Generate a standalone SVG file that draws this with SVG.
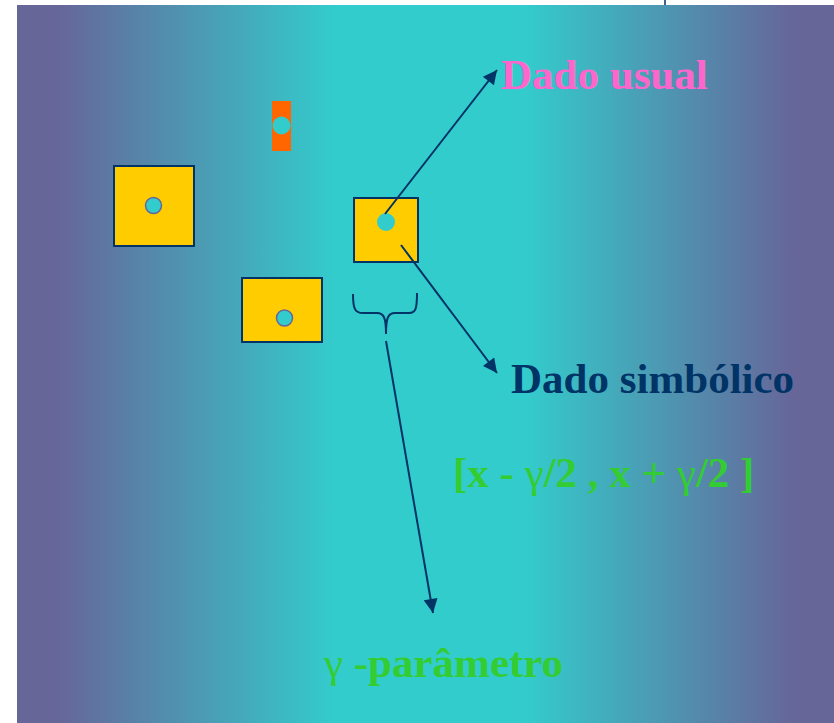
<svg xmlns="http://www.w3.org/2000/svg" width="834" height="723" viewBox="0 0 834 723">
  <style>
    .box { fill: #FFCC00; stroke: #003366; stroke-width: 2; }
    .dot { fill: #33CCCC; stroke: #666699; stroke-width: 1.5; }
    .conn { fill: none; stroke: #003366; stroke-width: 2; }
    .lbl { font-family: "Liberation Serif", "Times New Roman", serif; font-weight: bold; font-size: 43px; }
  </style>
  <defs>
    <linearGradient id="bg" x1="0" y1="0" x2="1" y2="0">
      <stop offset="0" stop-color="#666699"/>
      <stop offset="0.05" stop-color="#666699"/>
      <stop offset="0.39" stop-color="#33CCCC"/>
      <stop offset="0.62" stop-color="#33CCCC"/>
      <stop offset="0.95" stop-color="#666699"/>
      <stop offset="1" stop-color="#666699"/>
    </linearGradient>
    <marker id="arrow" viewBox="0 0 10 10" refX="10" refY="5" markerUnits="userSpaceOnUse" markerWidth="17" markerHeight="14" orient="auto">
      <path d="M0,0 L10,5 L0,10 z" fill="#003366"/>
    </marker>
  </defs>

  <rect x="0" y="0" width="834" height="723" fill="#FFFFFF"/>
  <rect x="17" y="5" width="817" height="718" fill="url(#bg)"/>
  <line x1="665" y1="0" x2="665" y2="5" stroke="#003366" stroke-width="1.5"/>

  <g id="interval-bar">
    <rect x="272" y="101" width="19" height="50" fill="#FF6600"/>
    <circle cx="281.5" cy="125.5" r="9" fill="#33CCCC"/>
  </g>

  <g id="square-left">
    <rect class="box" x="114" y="166" width="80" height="80"/>
    <circle class="dot" cx="153.5" cy="205.5" r="8"/>
  </g>

  <g id="square-bottom">
    <rect class="box" x="242" y="278" width="80" height="64"/>
    <circle class="dot" cx="284.5" cy="318" r="8"/>
  </g>

  <g id="square-right">
    <rect class="box" x="354" y="198" width="64" height="64"/>
    <circle cx="386" cy="222" r="9" fill="#33CCCC"/>
  </g>

  <g id="connectors">
    <line class="conn" x1="385" y1="214" x2="497" y2="70" marker-end="url(#arrow)"/>
    <line class="conn" x1="401" y1="245" x2="497" y2="373" marker-end="url(#arrow)"/>
    <line class="conn" x1="386" y1="341" x2="433" y2="613" marker-end="url(#arrow)"/>
    <path class="conn" d="M353,294 C353,309 355,313 363,313 L377,313 C384,313 386,318 386,334 C386,318 388,313 395,313 L409,313 C416,313 417,308 417,293"/>
  </g>

  <g id="label-usual">
    <text class="lbl" x="501" y="89" fill="#FF66CC">Dado usual</text>
  </g>
  <g id="label-symbolic">
    <text class="lbl" x="511" y="393" fill="#003366">Dado simbólico</text>
  </g>
  <g id="label-interval">
    <text class="lbl" x="453" y="487" fill="#33CC33">[x - <tspan font-weight="normal">γ</tspan>/2 , x + <tspan font-weight="normal">γ</tspan>/2 ]</text>
  </g>
  <g id="label-gamma">
    <text class="lbl" x="324" y="677" fill="#33CC33"><tspan font-weight="normal">γ</tspan> -parâmetro</text>
  </g>
</svg>
